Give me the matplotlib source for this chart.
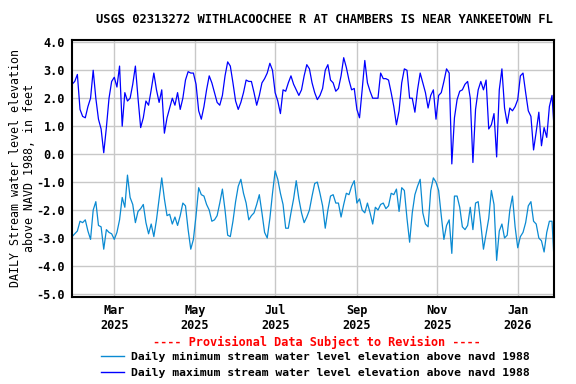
import matplotlib
matplotlib.use("Agg")
import matplotlib.pyplot as plt
import pandas as pd
from matplotlib.lines import Line2D

plt.rcParams['font.family'] = 'DejaVu Sans Mono'
plt.rcParams['font.weight'] = 'bold'
plt.rcParams['axes.unicode_minus'] = False

# Data (read every 2 days, starting 2025-01-28)
start_date = "2025-01-28"
daily_max = [
    2.5, 2.6, 2.85, 1.6, 1.35, 1.3, 1.7, 2.0, 3.0, 2.0,
    1.25, 0.9, 0.05, 0.95, 2.0, 2.6, 2.75, 2.4, 3.15, 1.0,
    2.2, 1.9, 2.0, 2.5, 3.15, 2.0, 0.95, 1.3, 1.9, 1.75,
    2.3, 2.9, 2.3, 1.85, 2.3, 0.75, 1.3, 1.65, 2.0, 1.75,
    2.2, 1.6, 2.0, 2.65, 2.95, 2.9, 2.9, 2.5, 1.55, 1.25,
    1.7, 2.3, 2.8, 2.55, 2.2, 1.85, 1.75, 2.1, 2.8, 3.3,
    3.15, 2.55, 1.9, 1.6, 1.85, 2.2, 2.65, 2.6, 2.6, 2.2,
    1.75, 2.1, 2.55, 2.7, 2.9, 3.25, 3.0, 2.2, 1.9, 1.45,
    2.3, 2.25, 2.55, 2.8, 2.5, 2.3, 2.1, 2.3, 2.8, 3.2,
    3.05, 2.55, 2.2, 1.95, 2.1, 2.35, 3.0, 3.2, 2.65, 2.55,
    2.25, 2.35, 2.8, 3.45, 3.1, 2.65, 2.3, 2.35, 1.6, 1.3,
    2.3, 3.35, 2.55, 2.25, 2.0, 2.0, 2.0, 2.9, 2.7, 2.7,
    2.65, 2.2, 1.7, 1.05, 1.55, 2.55, 3.05, 3.0, 2.0, 2.0,
    1.5, 2.3, 2.9, 2.55, 2.2, 1.65, 2.1, 2.3, 1.25, 2.1,
    2.2, 2.6, 3.05, 2.9, -0.35, 1.3, 1.95, 2.25, 2.3, 2.5,
    2.6, 2.0, -0.3, 1.6, 2.3, 2.6, 2.3, 2.65, 0.9, 1.05,
    1.45, -0.1, 2.3, 3.05, 1.65, 1.1, 1.65, 1.55, 1.7, 1.95,
    2.8, 2.9, 2.2, 1.55, 1.35, 0.15, 0.8, 1.5, 0.3, 0.95,
    0.6, 1.7, 2.1, 0.6,
]
daily_min = [
    -2.95, -2.85, -2.75, -2.4, -2.45, -2.35, -2.75, -3.05, -2.0, -1.7,
    -2.55, -2.6, -3.4, -2.7, -2.8, -2.85, -3.05, -2.8, -2.35, -1.55,
    -1.9, -0.75, -1.55, -1.8, -2.45, -2.05, -1.95, -1.8, -2.45, -2.85,
    -2.5, -2.95, -2.35, -1.6, -0.85, -1.6, -2.2, -2.15, -2.5, -2.25,
    -2.55, -2.2, -1.75, -1.85, -2.7, -3.4, -3.05, -2.2, -1.2, -1.45,
    -1.5, -1.8, -2.0, -2.4, -2.35, -2.2, -1.75, -1.25, -2.0, -2.9,
    -2.95, -2.4, -1.7, -1.15, -0.9, -1.4, -1.75, -2.35, -2.2, -2.1,
    -1.8, -1.45, -2.1, -2.8, -3.0, -2.3, -1.4, -0.6, -0.9, -1.4,
    -1.8, -2.65, -2.65, -2.1, -1.6, -0.95, -1.6, -2.1, -2.45, -2.25,
    -2.0, -1.5, -1.05, -1.0, -1.4, -1.85, -2.65, -2.0, -1.5, -1.45,
    -1.75, -1.75, -2.25, -1.8, -1.4, -1.45, -1.15, -0.95, -1.75, -1.6,
    -2.0, -2.1, -1.75, -2.1, -2.5, -1.9, -2.0, -1.8, -1.75, -1.95,
    -1.85, -1.4, -1.45, -1.25, -2.05, -1.2, -1.3, -2.3, -3.15, -2.1,
    -1.45, -1.15, -0.9, -2.1, -2.5, -2.6, -1.3, -0.85, -1.0, -1.3,
    -2.2, -3.05, -2.55, -2.35, -3.55, -1.5, -1.5, -1.9, -2.6, -2.7,
    -2.55, -1.9, -2.7, -1.75, -1.7, -2.5, -3.4, -2.85, -2.3, -1.3,
    -1.8, -3.8, -2.75, -2.5, -3.0, -2.9, -2.0, -1.5, -2.6, -3.35,
    -2.95, -2.8, -2.45, -1.85, -1.7, -2.4, -2.5, -3.0, -3.1, -3.5,
    -2.8, -2.4, -2.4, -4.2,
]
min_dates = pd.date_range(start_date, periods=len(daily_min), freq="2D")
max_dates = pd.date_range(start_date, periods=len(daily_max), freq="2D")

tick_dates = pd.to_datetime(["2025-03-01", "2025-05-01", "2025-07-01",
                             "2025-09-01", "2025-11-01", "2026-01-01"])
tick_labels = [d.strftime("%b\n%Y") for d in tick_dates]
y_ticks = [4, 3, 2, 1, 0, -1, -2, -3, -4, -5]

min_color = "#0a8ad2"
max_color = "#0000ff"

fig = plt.figure(figsize=(5.76, 3.84), dpi=100)
ax = fig.add_axes([0.1245, 0.2273, 0.8373, 0.6698])

ax.plot(min_dates, daily_min, color=min_color, lw=0.9)
ax.plot(max_dates, daily_max, color=max_color, lw=0.9)

ax.set_xlim(pd.Timestamp("2025-01-27 17:00"), pd.Timestamp("2026-01-28 12:00"))
ax.set_ylim(-5.1, 4.1)
ax.set_yticks(y_ticks)
ax.set_yticklabels([f"{v:.1f}" for v in y_ticks])
ax.set_xticks(tick_dates)
ax.set_xticklabels(tick_labels)
ax.grid(True, color="#c8c8c8", lw=1.0)
ax.set_axisbelow(True)
ax.tick_params(length=0, labelsize=8.6, pad=5)
for s in ax.spines.values():
    s.set_linewidth(1.5)

ax.set_ylabel("DAILY Stream water level elevation\nabove NAVD 1988, in feet",
              fontsize=8.4, labelpad=0.5, linespacing=1.1)
fig.text(0.5625, 0.95, "USGS 02313272 WITHLACOOCHEE R AT CHAMBERS IS NEAR YANKEETOWN FL",
         ha="center", va="center", fontsize=8.75)
fig.text(0.55, 0.108, "---- Provisional Data Subject to Revision ----",
         ha="center", va="center", fontsize=8.6, color="red")

handles = [Line2D([], [], color=min_color, lw=1.0),
           Line2D([], [], color=max_color, lw=1.0)]
labels = ["Daily minimum stream water level elevation above navd 1988",
          "Daily maximum stream water level elevation above navd 1988"]
fig.legend(handles, labels, loc="center", bbox_to_anchor=(0.548, 0.05),
           frameon=False, fontsize=8.2, handlelength=2.0, handletextpad=0.6,
           labelspacing=0.5, borderpad=0)

fig.savefig("out.png", dpi=100)
